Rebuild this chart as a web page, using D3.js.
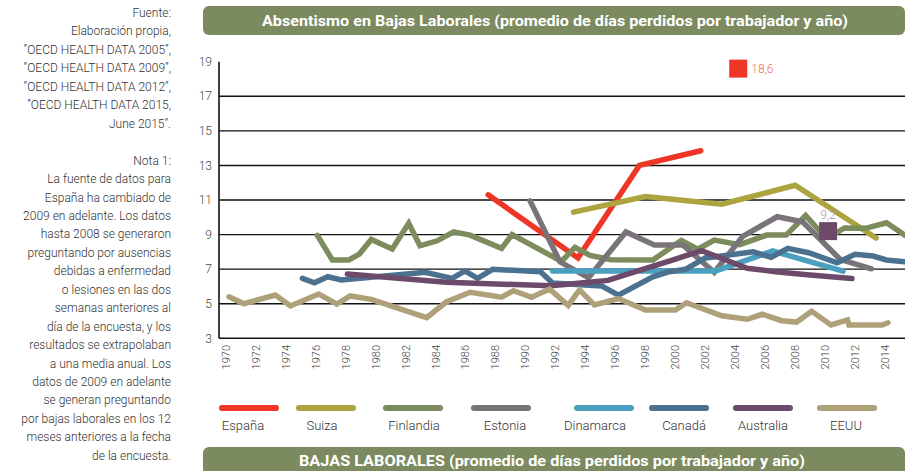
<!DOCTYPE html>
<html>
<head>
<meta charset="utf-8">
<script src="https://cdn.jsdelivr.net/npm/d3@7"></script>
<style>
  body { margin: 0; background: #fff; }
  svg { display: block; font-family: Roboto, "Open Sans", sans-serif; }
</style>
</head>
<body>
<svg width="905" height="471"></svg>
<script>
// series as [year, days]
const espana = [[1987.3, 11.3], [1993.3, 7.65], [1997.4, 13.0], [2001.5, 13.85]];
const suiza = [[1993, 10.3], [1997.8, 11.2], [2002.9, 10.76], [2007.8, 11.85], [2013.2, 8.8]];
const finlandia = [[1975.9, 8.95], [1976.9, 7.53], [1978, 7.53], [1978.7, 7.87], [1979.5, 8.72],
  [1980.9, 8.16], [1982, 9.65], [1982.75, 8.35], [1983.9, 8.64], [1985, 9.16], [1986.1, 8.97],
  [1988.2, 8.2], [1988.9, 9.0], [1992.2, 7.45], [1993.1, 8.26], [1994.1, 7.8], [1995.5, 7.55],
  [1998.3, 7.53], [2000.2, 8.66], [2001.3, 8.15], [2002.4, 8.68], [2004.1, 8.42], [2005.9, 8.97],
  [2007.2, 8.97], [2008.5, 10.1], [2009.5, 9.15], [2010.3, 8.97], [2011.1, 9.38], [2012.5, 9.36],
  [2013.9, 9.68], [2015.1, 8.97]];
const estonia = [[1990.1, 10.95], [1992.1, 7.42], [1994, 6.5], [1996.5, 9.15], [1998.4, 8.4],
  [2000.3, 8.4], [2002.4, 6.82], [2004.3, 8.9], [2006.6, 10.03], [2008.3, 9.74], [2010.8, 7.57],
  [2012.9, 7.02]];
const dinamarca = [[1991.6, 6.9], [2002.5, 6.9], [2006.3, 8.05], [2011, 6.88]];
const canada = [[1974.9, 6.47], [1975.7, 6.21], [1976.6, 6.56], [1977.5, 6.37], [1983.1, 6.82],
  [1984.9, 6.47], [1985.75, 6.9], [1986.6, 6.47], [1987.6, 6.99], [1990.8, 6.85], [1991.6, 6.2],
  [1994.9, 6.02], [1996, 5.5], [1998.3, 6.56], [1999.4, 6.85], [2000.5, 7.0], [2001.8, 7.65],
  [2002.5, 7.72], [2005, 8.0], [2006.2, 7.68], [2007.3, 8.2], [2008.7, 7.95], [2010.6, 7.37],
  [2011.8, 7.86], [2013, 7.76], [2013.9, 7.53], [2015.1, 7.43]];
const australia = [[1977.9, 6.72], [1984.5, 6.24], [1991.5, 6.04], [1993.5, 6.2], [1995.3, 6.35],
  [1997.3, 6.9], [1999.5, 7.5], [2001.55, 8.07], [2004.6, 7.05], [2006.5, 6.85], [2008.6, 6.68],
  [2011.6, 6.46]];
const eeuu = [[1970, 5.4], [1971, 5.0], [1973.1, 5.5], [1974.1, 4.87], [1976, 5.56], [1977.2, 4.98],
  [1978.1, 5.45], [1979.5, 5.25], [1983.2, 4.2], [1984.5, 5.1], [1986.1, 5.66], [1988.2, 5.38],
  [1989, 5.75], [1990.2, 5.37], [1991.4, 5.85], [1992.65, 4.9], [1993.4, 5.8], [1994.4, 4.93],
  [1996, 5.3], [1997.8, 4.64], [1999.8, 4.64], [2000.55, 5.06], [2002.9, 4.3], [2004.6, 4.1],
  [2005.6, 4.39], [2006.9, 4.02], [2007.9, 3.94], [2008.9, 4.56], [2010.2, 3.77], [2011.3, 4.06],
  [2011.4, 3.77], [2013.6, 3.77], [2014, 3.9]];

const countries = ["España", "Suiza", "Finlandia", "Estonia", "Dinamarca", "Canadá", "Australia", "EEUU"];
const series = [espana, suiza, finlandia, estonia, dinamarca, canada, australia, eeuu];
const colors = ["#ee3526", "#aca43e", "#7c8c5c", "#79747a", "#4ba0bf", "#4b7190", "#6e4a6a", "#aea17a"];

// single highlighted points
const markerYears = [2004, 2010];
const markerValues = [18.6, 9.2];
const markerLabels = ["18,6", "9,2"];
const markerColors = ["#ee3526", "#6e4a6a"];

const yTicks = [3, 5, 7, 9, 11, 13, 15, 17, 19];
const xTicks = d3.range(1970, 2015, 2);

const title = "Absentismo en Bajas Laborales (promedio de días perdidos por trabajador y año)";
const footer = "BAJAS  LABORALES  (promedio de días perdidos por trabajador y año)";
const notes = [
  "Fuente:", "Elaboración propia,", "”OECD HEALTH DATA 2005”,", "”OECD HEALTH DATA 2009”,",
  "”OECD HEALTH DATA 2012”,", "”OECD HEALTH DATA 2015,", "June 2015”.", "",
  "Nota 1:", "La fuente de datos para", "España ha cambiado de", "2009 en adelante. Los datos",
  "hasta 2008 se generaron", "preguntando por ausencias", "debidas a enfermedad",
  "o lesiones en las dos", "semanas anteriores al", "día de la encuesta, y los",
  "resultados se extrapolaban", "a una media anual. Los", "datos de 2009 en adelante",
  "se generan preguntando", "por bajas laborales en los 12", "meses anteriores a la fecha",
  "de la encuesta."
];

const svg = d3.select("svg");
const left = 219, right = 905;

const x = d3.scaleLinear().domain([1970, 2014]).range([229, 888]);
const y = d3.scaleLinear().domain([3, 19]).range([338.3, 61.7]);

// side notes
svg.append("g")
    .selectAll("text")
    .data(notes)
    .enter()
    .append("text")
    .attr("x", 171)
    .attr("y", (d, i) => 17 + i * 18.45)
    .attr("text-anchor", "end")
    .attr("font-size", 12)
    .attr("font-weight", 300)
    .attr("fill", "#333")
    .text(d => d);

// header band
svg.append("rect")
    .attr("x", 203).attr("y", 6)
    .attr("width", 702).attr("height", 29)
    .attr("rx", 6)
    .attr("fill", "#7b8a5f");
svg.append("text")
    .attr("x", 555).attr("y", 25.5)
    .attr("text-anchor", "middle")
    .attr("font-size", 15)
    .attr("font-weight", 700)
    .attr("fill", "#fff")
    .attr("textLength", 586)
    .attr("lengthAdjust", "spacingAndGlyphs")
    .text(title);

// footer band
svg.append("rect")
    .attr("x", 203).attr("y", 447)
    .attr("width", 702).attr("height", 40)
    .attr("rx", 6)
    .attr("fill", "#7b8a5f");
svg.append("text")
    .attr("x", 552).attr("y", 465.5)
    .attr("text-anchor", "middle")
    .attr("font-size", 15)
    .attr("font-weight", 700)
    .attr("fill", "#fff")
    .attr("textLength", 506)
    .attr("lengthAdjust", "spacingAndGlyphs")
    .text(footer);

// grid
svg.append("g")
    .selectAll("line")
    .data(yTicks.filter(d => d < 19))
    .enter()
    .append("line")
    .attr("x1", left).attr("x2", right)
    .attr("y1", d => y(d)).attr("y2", d => y(d))
    .attr("stroke", "#111")
    .attr("stroke-width", 1.4);

svg.append("line")
    .attr("x1", left).attr("x2", left)
    .attr("y1", y(19)).attr("y2", y(3))
    .attr("stroke", "#111")
    .attr("stroke-width", 1.6);

svg.append("g")
    .selectAll("text")
    .data(yTicks)
    .enter()
    .append("text")
    .attr("x", 212)
    .attr("y", d => y(d))
    .attr("dy", "0.35em")
    .attr("text-anchor", "end")
    .attr("font-size", 12)
    .attr("font-weight", 300)
    .attr("fill", "#444")
    .text(d => d);

svg.append("g")
    .selectAll("text")
    .data(xTicks)
    .enter()
    .append("text")
    .attr("transform", d => `translate(${x(d) - 3},345) rotate(-90)`)
    .attr("dy", "0.35em")
    .attr("text-anchor", "end")
    .attr("font-size", 11)
    .attr("font-weight", 300)
    .attr("fill", "#444")
    .text(d => d);

// lines
const line = d3.line()
    .x(d => x(d[0]))
    .y(d => y(d[1]));

svg.append("clipPath").attr("id", "plot")
    .append("rect")
    .attr("x", left).attr("y", 40)
    .attr("width", right - left).attr("height", 300);

svg.append("g")
    .attr("clip-path", "url(#plot)")
    .selectAll("path")
    .data(series)
    .enter()
    .append("path")
    .attr("d", line)
    .attr("fill", "none")
    .attr("stroke", (d, i) => colors[i])
    .attr("stroke-width", 5.5)
    .attr("stroke-linejoin", "miter")
    .attr("stroke-linecap", "round");

// markers
const markers = svg.append("g")
    .selectAll("g")
    .data(markerYears)
    .enter()
    .append("g");

markers.append("rect")
    .attr("x", (d, i) => x(d) - 9)
    .attr("y", (d, i) => y(markerValues[i]) - 9)
    .attr("width", 18).attr("height", 18)
    .attr("fill", (d, i) => markerColors[i]);

markers.append("text")
    .attr("x", (d, i) => i === 0 ? x(d) + 13 : x(d))
    .attr("y", (d, i) => i === 0 ? y(markerValues[i]) + 4.5 : y(markerValues[i]) - 12)
    .attr("text-anchor", (d, i) => i === 0 ? "start" : "middle")
    .attr("font-size", 12)
    .attr("font-weight", 300)
    .attr("fill", (d, i) => i === 0 ? "#f26c5c" : "#a8929f")
    .text((d, i) => markerLabels[i]);

// legend
const legendX = [249, 326, 413, 501, 604, 679, 763, 847];

const legend = svg.append("g")
    .selectAll("g")
    .data(countries)
    .enter()
    .append("g")
    .attr("transform", (d, i) => `translate(${legendX[i]},0)`);

legend.append("line")
    .attr("x1", -27).attr("x2", 27)
    .attr("y1", 408).attr("y2", 408)
    .attr("stroke", (d, i) => colors[i])
    .attr("stroke-width", 6)
    .attr("stroke-linecap", "round");

legend.append("text")
    .attr("x", (d, i) => [-6, -4, 1, 4, -9, 5, 0, -1][i])
    .attr("y", 430)
    .attr("text-anchor", "middle")
    .attr("font-size", 13)
    .attr("font-weight", 300)
    .attr("fill", "#333")
    .text(d => d);
</script>
</body>
</html>
